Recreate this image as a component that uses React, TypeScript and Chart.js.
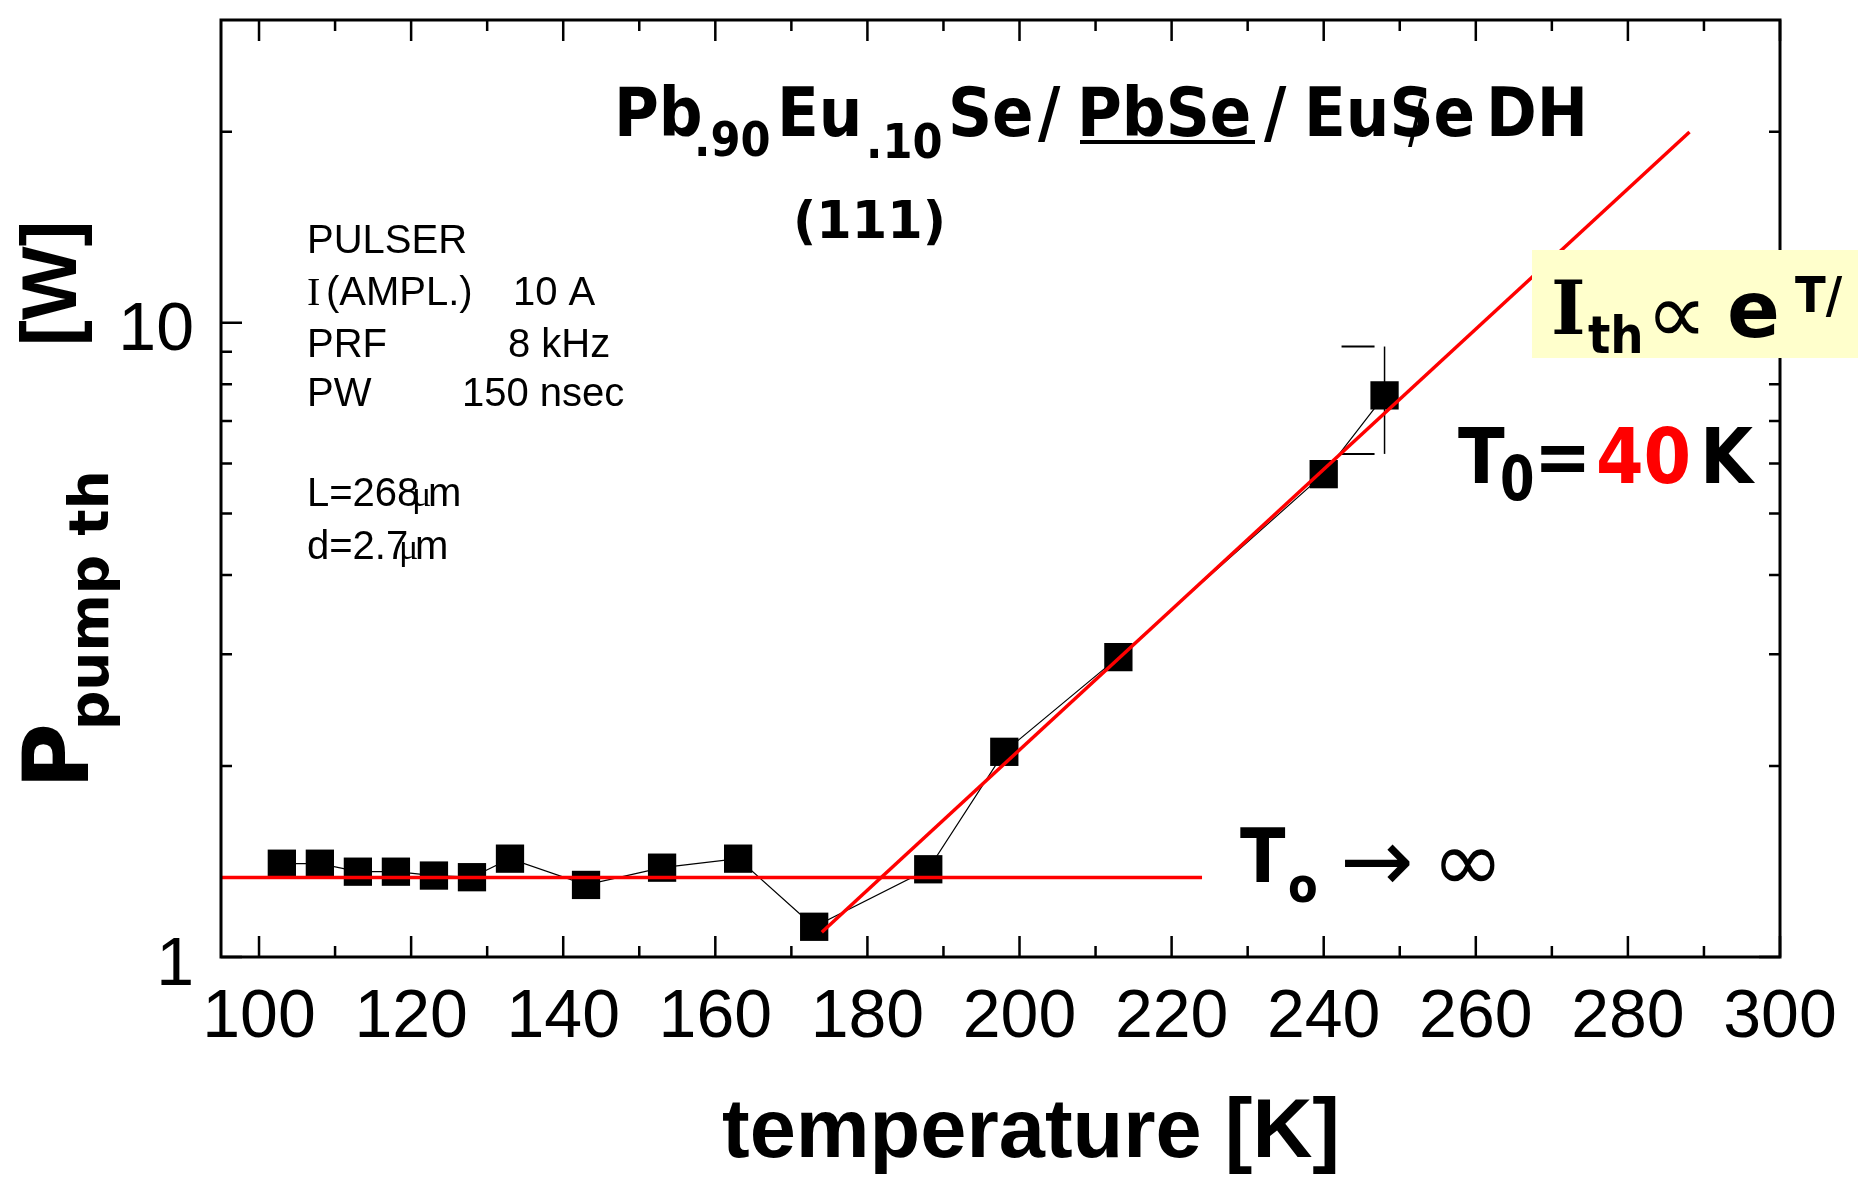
import React, { useEffect, useRef } from "react";
import { Chart, registerables } from "chart.js";

Chart.register(...registerables);

// ---- data ----
const temperatureK = [103, 108, 113, 118, 123, 128, 133, 143, 153, 163, 173, 188, 198, 213, 240, 248];
const pumpThresholdW = [1.403, 1.403, 1.363, 1.363, 1.344, 1.336, 1.429, 1.299, 1.383, 1.429, 1.116, 1.375, 2.106, 2.97, 5.77, 7.68];

const errorBarT = [248];
const errorBarLow = [6.21];
const errorBarHigh = [9.17];

const flatFitT = [95, 224];
const flatFitW = [1.334, 1.334];

const expFitT = [174, 288.1];
const expFitW = [1.094, 19.98];

const xMajorTicks = [100, 120, 140, 160, 180, 200, 220, 240, 260, 280, 300];
const xMinorTicks = [110, 130, 150, 170, 190, 210, 230, 250, 270, 290];
const yMajorTicks = [1, 10];
const yMinorTicks = [2, 3, 4, 5, 6, 7, 8, 9, 20];

const X_MIN = 95;
const X_MAX = 300;
const Y_MIN = 1;
const Y_MAX = 30;

const W = 1858;
const H = 1182;

const SANS = '"Liberation Sans", Arial, sans-serif';
const SERIF = '"Liberation Serif", "Times New Roman", serif';
const DJ = '"DejaVu Sans", Verdana, sans-serif';
const DJS = '"DejaVu Serif", serif';

function put(ctx: CanvasRenderingContext2D, s: string, x: number, y: number, font: string, color = "#000", sx = 1) {
  ctx.save();
  ctx.font = font;
  ctx.fillStyle = color;
  ctx.textAlign = "left";
  ctx.textBaseline = "alphabetic";
  ctx.translate(x, y);
  ctx.scale(sx, 1);
  ctx.fillText(s, 0, 0);
  const w = ctx.measureText(s).width * sx;
  ctx.restore();
  return w;
}

function putRot(ctx: CanvasRenderingContext2D, s: string, x: number, y: number, font: string, sx = 1) {
  ctx.save();
  ctx.font = font;
  ctx.fillStyle = "#000";
  ctx.textAlign = "left";
  ctx.textBaseline = "alphabetic";
  ctx.translate(x, y);
  ctx.rotate(-Math.PI / 2);
  ctx.scale(sx, 1);
  ctx.fillText(s, 0, 0);
  ctx.restore();
}

const errorBarPlugin = {
  id: "errorBars",
  beforeDatasetsDraw(chart: any) {
    const { ctx, scales } = chart;
    const x = scales.x;
    const y = scales.y;
    ctx.save();
    ctx.strokeStyle = "#000";
    errorBarT.forEach((t, i) => {
      const px = x.getPixelForValue(t);
      const lo = y.getPixelForValue(errorBarLow[i]);
      const hi = y.getPixelForValue(errorBarHigh[i]);
      ctx.lineWidth = 1.5;
      ctx.beginPath();
      ctx.moveTo(px, lo);
      ctx.lineTo(px, hi);
      ctx.stroke();
      ctx.lineWidth = 2;
      ctx.beginPath();
      ctx.moveTo(px - 43, hi);
      ctx.lineTo(px - 10, hi);
      ctx.moveTo(px - 43, lo);
      ctx.lineTo(px - 10, lo);
      ctx.stroke();
    });
    ctx.restore();
  },
};

const framePlugin = {
  id: "frame",
  afterDatasetsDraw(chart: any) {
    const { ctx, chartArea: a, scales } = chart;
    const x = scales.x;
    const y = scales.y;
    ctx.save();
    ctx.strokeStyle = "#000";
    ctx.lineWidth = 3;
    ctx.strokeRect(a.left, a.top, a.right - a.left, a.bottom - a.top);
    ctx.lineWidth = 2.5;
    ctx.beginPath();
    const xt = (v: number, len: number) => {
      const p = x.getPixelForValue(v);
      ctx.moveTo(p, a.bottom);
      ctx.lineTo(p, a.bottom - len);
      ctx.moveTo(p, a.top);
      ctx.lineTo(p, a.top + len);
    };
    const yt = (v: number, len: number) => {
      const p = y.getPixelForValue(v);
      ctx.moveTo(a.left, p);
      ctx.lineTo(a.left + len, p);
      ctx.moveTo(a.right, p);
      ctx.lineTo(a.right - len, p);
    };
    xMajorTicks.forEach((v) => xt(v, 21));
    xMinorTicks.forEach((v) => xt(v, 11));
    yMajorTicks.forEach((v) => yt(v, 21));
    yMinorTicks.forEach((v) => yt(v, 11));
    ctx.stroke();
    ctx.restore();
  },
};

const annotationPlugin = {
  id: "annotations",
  afterDraw(chart: any) {
    const ctx: CanvasRenderingContext2D = chart.ctx;

    // --- title ---
    const tf = `bold 68px ${DJ}`;
    const sf = `bold 48px ${DJ}`;
    const sx = 0.9;
    put(ctx, "Pb", 614, 136, tf, "#000", sx);
    put(ctx, ".90", 694, 156, sf, "#000", sx);
    put(ctx, "Eu", 777, 136, tf, "#000", sx);
    put(ctx, ".10", 866, 158, sf, "#000", sx);
    put(ctx, "Se", 948, 136, tf, "#000", sx);
    put(ctx, "/", 1038, 136, tf, "#000", sx);
    put(ctx, "PbSe", 1077, 136, tf, "#000", sx);
    ctx.fillStyle = "#000";
    ctx.fillRect(1080, 140, 175, 4);
    put(ctx, "/", 1264, 136, tf, "#000", sx);
    put(ctx, "EuSe", 1304, 136, tf, "#000", sx);
    put(ctx, "/", 1408, 142, `58px ${DJ}`, "#000", 0.8);
    put(ctx, "DH", 1486, 136, tf, "#000", sx);
    put(ctx, "(111)", 793, 238, `bold 51px ${DJ}`);

    // --- pulser info ---
    const af = `40px ${SANS}`;
    put(ctx, "PULSER", 307, 253, af);
    put(ctx, "I", 307, 305, `40px ${SERIF}`);
    put(ctx, "(AMPL.)", 326, 305, af);
    put(ctx, "10 A", 513, 305, af);
    put(ctx, "PRF", 307, 357, af);
    put(ctx, "8 kHz", 508, 357, af);
    put(ctx, "PW", 307, 406, af);
    put(ctx, "150 nsec", 462, 406, af);
    put(ctx, "L=268", 307, 506, af);
    put(ctx, "\u03bc", 412, 506, `36px ${SERIF}`);
    put(ctx, "m", 428, 506, af);
    put(ctx, "d=2.7", 307, 559, af);
    put(ctx, "\u03bc", 399, 559, `36px ${SERIF}`);
    put(ctx, "m", 415, 559, af);

    // --- formula box ---
    ctx.fillStyle = "#FFFFCC";
    ctx.fillRect(1532, 250, W - 1532, 108);
    put(ctx, "I", 1551, 334, `bold 74px ${DJS}`);
    put(ctx, "th", 1588, 353, `bold 52px ${DJ}`, "#000", 0.9);
    put(ctx, "\u221d", 1646, 343, `86px ${DJ}`);
    put(ctx, "e", 1727, 337, `bold 78px ${DJ}`);
    put(ctx, "T/", 1795, 312, `bold 50px ${DJ}`, "#000", 0.9);

    // --- T0 = 40 K ---
    put(ctx, "T", 1458, 483, `bold 76px ${DJ}`, "#000", 0.9);
    put(ctx, "0", 1500, 500, `bold 62px ${DJ}`, "#000", 0.8);
    put(ctx, "=", 1534, 483, `bold 76px ${DJ}`, "#000", 0.9);
    put(ctx, "40", 1596, 483, `bold 76px ${DJ}`, "#FF0000", 0.9);
    put(ctx, "K", 1700, 483, `bold 76px ${DJ}`, "#000", 0.9);

    // --- T0 -> infinity ---
    put(ctx, "T", 1240, 882, `bold 74px ${DJ}`, "#000", 0.9);
    put(ctx, "o", 1288, 902, `bold 48px ${DJ}`, "#000", 0.9);
    put(ctx, "\u2192", 1340, 891, `88px ${DJ}`);
    put(ctx, "\u221e", 1432, 891, `86px ${DJ}`);

    // --- axis titles ---
    ctx.save();
    ctx.font = `bold 83px ${SANS}`;
    ctx.fillStyle = "#000";
    ctx.textAlign = "center";
    ctx.textBaseline = "alphabetic";
    ctx.fillText("temperature [K]", 1031, 1157);
    ctx.restore();

    putRot(ctx, "P", 88, 789, `bold 90px ${DJ}`);
    putRot(ctx, "pump th", 108, 730, `bold 55px ${DJ}`);
    putRot(ctx, "[W]", 76, 346, `bold 78px ${SANS}`);
  },
};

export default function App() {
  const ref = useRef<HTMLCanvasElement | null>(null);

  useEffect(() => {
    if (!ref.current) return;
    const tickFont = { family: SANS, size: 68 };
    const chart = new Chart(ref.current, {
      type: "scatter",
      data: {
        datasets: [
          {
            label: "T0 = 40 K fit",
            data: expFitT.map((t, i) => ({ x: t, y: expFitW[i] })),
            showLine: true,
            borderColor: "#FF0000",
            borderWidth: 3.5,
            pointRadius: 0,
            order: 1,
          },
          {
            label: "T0 -> infinity",
            data: flatFitT.map((t, i) => ({ x: t, y: flatFitW[i] })),
            showLine: true,
            borderColor: "#FF0000",
            borderWidth: 3.5,
            pointRadius: 0,
            order: 2,
          },
          {
            label: "P pump th",
            data: temperatureK.map((t, i) => ({ x: t, y: pumpThresholdW[i] })),
            showLine: true,
            borderColor: "#000",
            borderWidth: 1.2,
            backgroundColor: "#000",
            pointStyle: "rect",
            pointRadius: 20,
            pointBorderWidth: 0,
            pointBackgroundColor: "#000",
            order: 3,
          },
        ],
      },
      options: {
        responsive: false,
        animation: false,
        devicePixelRatio: 1,
        layout: { padding: { top: 14, right: 78, left: 0, bottom: 0 } },
        plugins: { legend: { display: false }, tooltip: { enabled: false } },
        scales: {
          x: {
            type: "linear",
            min: X_MIN,
            max: X_MAX,
            grid: { display: false, drawTicks: false },
            border: { display: false },
            afterBuildTicks: (s: any) => {
              s.ticks = xMajorTicks.map((v) => ({ value: v }));
            },
            afterFit: (s: any) => {
              s.height = 225;
              s.paddingLeft = 0;
              s.paddingRight = 0;
            },
            ticks: {
              font: tickFont,
              color: "#000",
              padding: 20,
              maxRotation: 0,
              autoSkip: false,
              callback: (v: any) => String(v),
            },
          },
          y: {
            type: "logarithmic",
            min: Y_MIN,
            max: Y_MAX,
            grid: { display: false, drawTicks: false },
            border: { display: false },
            afterBuildTicks: (s: any) => {
              s.ticks = yMajorTicks.map((v) => ({ value: v }));
            },
            afterFit: (s: any) => {
              s.width = 221;
              s.paddingTop = 0;
              s.paddingBottom = 0;
            },
            ticks: {
              font: tickFont,
              color: "#000",
              padding: 27,
              labelOffset: 9,
              autoSkip: false,
              callback: (v: any) => String(v),
            },
          },
        },
      },
      plugins: [errorBarPlugin, framePlugin, annotationPlugin],
    } as any);
    return () => chart.destroy();
  }, []);

  return (
    <div style={{ position: "fixed", left: 0, top: 0, width: W, height: H, background: "#fff" }}>
      <canvas ref={ref} width={W} height={H} style={{ display: "block", width: W, height: H }} />
    </div>
  );
}
